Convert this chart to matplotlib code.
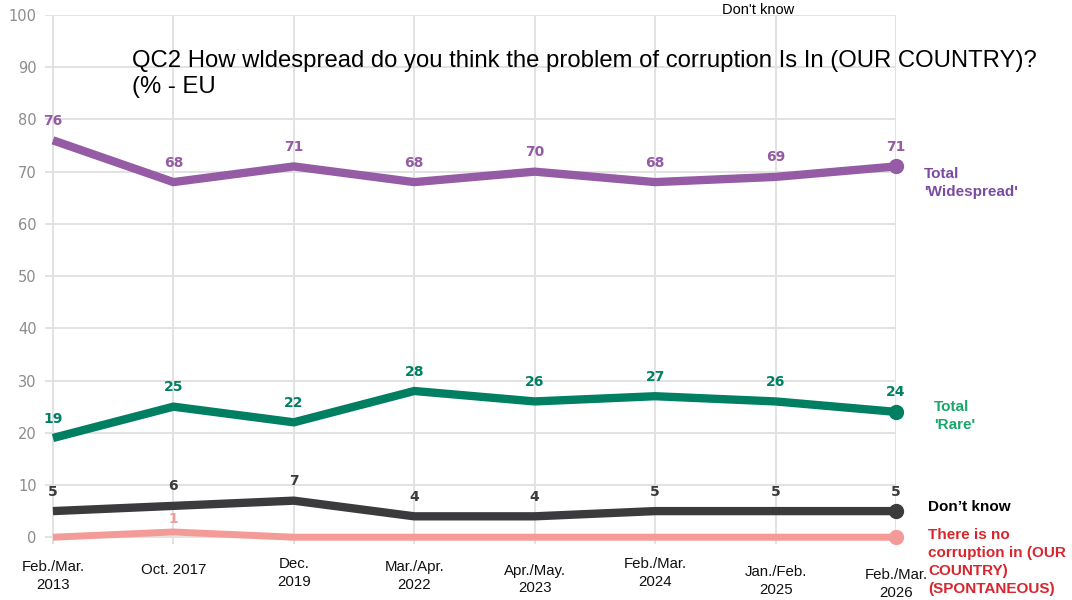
import matplotlib
matplotlib.use("Agg")
import matplotlib.pyplot as plt
from matplotlib.transforms import blended_transform_factory

# data
waves = ["Feb./Mar.\n2013", "Oct. 2017", "Dec.\n2019", "Mar./Apr.\n2022",
         "Apr./May.\n2023", "Feb./Mar.\n2024", "Jan./Feb.\n2025", "Feb./Mar.\n2026"]
widespread = [76, 68, 71, 68, 70, 68, 69, 71]
rare = [19, 25, 22, 28, 26, 27, 26, 24]
dont_know = [5, 6, 7, 4, 4, 5, 5, 5]
no_corruption = [0, 1, 0, 0, 0, 0, 0, 0]
yticks = [0, 10, 20, 30, 40, 50, 60, 70, 80, 90, 100]

# vertical centre (pixels from top) of each staggered x label
label_py = [576, 570, 573, 576, 579.5, 573, 581, 584]

W, H = 1072, 600
fig = plt.figure(figsize=(W / 100, H / 100), dpi=100)
ax = fig.add_axes([45 / W, 1 - 544 / H, (896 - 45) / W, (544 - 15) / H])

x = list(range(len(waves)))
ax.set_xlim(-0.066, 7.0)
ax.set_ylim(-1.3, 100)

for s in ax.spines.values():
    s.set_visible(False)
ax.set_xticks(x)
ax.set_xticklabels([])
ax.set_yticks(yticks)
ax.set_yticklabels([str(v) for v in yticks], color="#8c8c8c", fontsize=10.5,
                   family="DejaVu Sans")
ax.tick_params(length=0, pad=6)
ax.grid(True, color="#e2e2e2", linewidth=1.4)
ax.set_axisbelow(True)

series = [
    (widespread, "#955ba5", 6.0, True),
    (rare, "#007f62", 6.0, True),
    (dont_know, "#3b3a3c", 6.0, True),
    (no_corruption, "#f49b98", 5.0, False),
]

for vals, col, lw, label_all in series:
    ax.plot(x, vals, color=col, linewidth=lw, solid_capstyle="butt",
            solid_joinstyle="miter", clip_on=False, zorder=3)
    ax.plot(x[-1], vals[-1], "o", color=col, markersize=10, clip_on=False, zorder=4)
    for xi, v in zip(x, vals):
        if not label_all and v == 0:
            continue
        off = 14 if label_all else 9
        ax.annotate(str(v), (xi, v), xytext=(0, off), textcoords="offset points",
                    ha="center", va="center", fontsize=10, fontweight="bold",
                    color=col, family="DejaVu Sans", zorder=5)

# x labels, staggered like the reference
tr = blended_transform_factory(ax.transData, fig.transFigure)
for xi, lab, py in zip(x, waves, label_py):
    ax.text(xi, 1 - py / H, lab, transform=tr, ha="center", va="center",
            fontsize=10.8, family="Liberation Sans", linespacing=1.3,
            color="#111111")

# series names on the right
fig.text(924 / W, 1 - 183 / H, "Total\n'Widespread'", color="#7b4ba3",
         fontsize=11, fontweight="bold", family="Liberation Sans",
         va="center", ha="left", linespacing=1.3)
fig.text(934 / W, 1 - 416 / H, "Total\n'Rare'", color="#1aa56c",
         fontsize=11, fontweight="bold", family="Liberation Sans",
         va="center", ha="left", linespacing=1.3)
fig.text(928 / W, 1 - 507 / H, "Don\u2019t know", color="#000000",
         fontsize=11, fontweight="bold", family="Liberation Sans",
         va="center", ha="left")
fig.text(928 / W, 1 - 562 / H,
         "There is no\ncorruption in (OUR\nCOUNTRY)\n(SPONTANEOUS)",
         color="#d7262e", fontsize=11, fontweight="bold",
         family="Liberation Sans", va="center", ha="left", linespacing=1.35)

# title overlaid on the plot
fig.text(132 / W, 1 - 74 / H,
         "QC2 How wldespread do you think the problem of corruption Is In (OUR COUNTRY)?\n(% - EU",
         fontsize=17.2, family="Liberation Sans", va="center", ha="left",
         linespacing=1.2, color="#000000")
fig.text(722 / W, 1 - 10 / H, "Don't know", fontsize=10.5,
         family="Liberation Sans", va="center", ha="left", color="#000000")

fig.savefig("out.png", dpi=100)
